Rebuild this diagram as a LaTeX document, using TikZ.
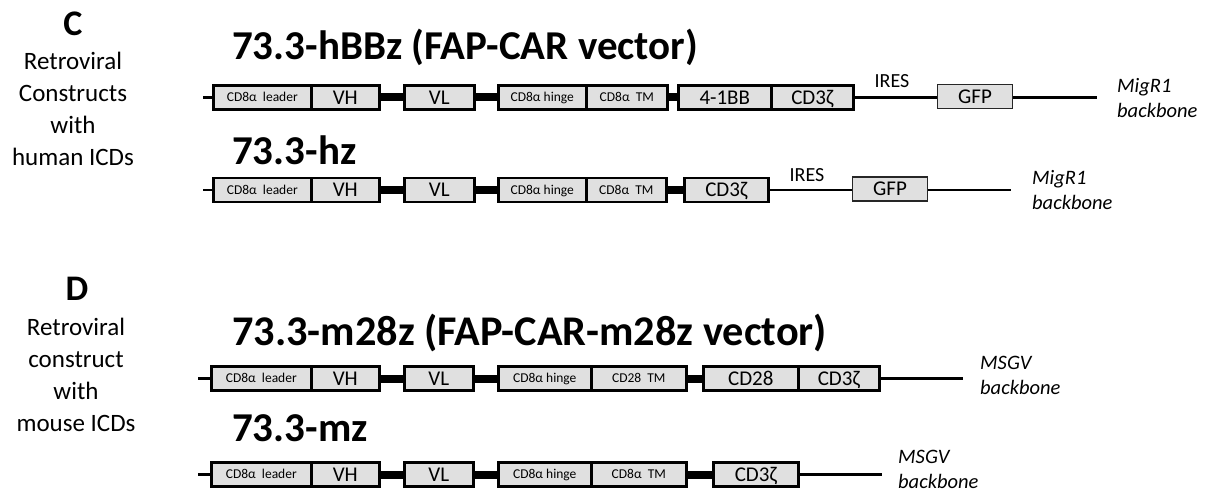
\documentclass[tikz,border=0pt]{standalone}
\usepackage{fontspec}
\setmainfont{Carlito}
\definecolor{boxgray}{HTML}{E0E0E0}
\begin{document}
\begin{tikzpicture}[x=1pt,y=-1pt,
  box/.style={draw, line width=2.6pt, fill=boxgray, minimum height=24pt, inner sep=0pt, anchor=west, text height=13.5pt, text depth=0pt, font=\fontsize{21}{21}\selectfont},
  smallbox/.style={box, text height=8.7pt, font=\fontsize{13.5}{13.5}\selectfont},
  gfpbox/.style={draw=black!85, line width=1.2pt, fill=boxgray, minimum height=24pt, inner sep=0pt, anchor=west, text height=13.5pt, text depth=0pt, font=\fontsize{21}{21}\selectfont},
  backbone/.style={line width=2.5pt},
  linker/.style={line width=8pt},
  title/.style={anchor=west, inner sep=0pt, font=\bfseries\fontsize{41}{41}\selectfont},
  panel/.style={inner sep=0pt, font=\bfseries\fontsize{36}{36}\selectfont},
  side/.style={inner sep=0pt, align=center, font=\fontsize{25}{32}\selectfont},
  ires/.style={inner sep=0pt, font=\fontsize{20}{20}\selectfont},
  bbone/.style={anchor=west, inner sep=0pt, align=left, font=\itshape\fontsize{20.5}{25}\selectfont}
]
\useasboundingbox (0,0) rectangle (1216,497);

% ---------- left labels ----------
\node[panel] (pc) at (73,24) {C};
\node[side] (lc) at (73,109) {Retroviral\\Constructs\\with\\human ICDs};
\node[panel] (pd) at (77,289) {D};
\node[side] (ld) at (76,375) {Retroviral\\construct\\with\\mouse ICDs};

% ---------- titles ----------
\node[title] (t1) at (232,47) {73.3-hBBz (FAP-CAR vector)};
\node[title] (t2) at (232,150) {73.3-hz};
\node[title, font=\bfseries\fontsize{42.3}{42.3}\selectfont] (t3) at (232,333) {73.3-m28z (FAP-CAR-m28z vector)};
\node[title] (t4) at (232,428) {73.3-mz};

% ---------- row 1 ----------
\coordinate (r1s) at (203,97.5);
\coordinate (r1e) at (1097,97.5);
\draw[backbone] (r1s) -- (r1e);
\node[gfpbox, minimum width=75pt] (r1gfp) at (937,96.5) {GFP};
\node[smallbox, minimum width=98pt] (r1le) at (212,97.5) {CD8α\ \ leader};
\node[box, minimum width=68pt] (r1vh) at (310,97.5) {VH};
\node[box, minimum width=70pt] (r1vl) at (403,97.5) {VL};
\node[smallbox, minimum width=88pt] (r1hi) at (497,97.5) {CD8α hinge};
\node[smallbox, minimum width=81pt] (r1tm) at (585,97.5) {CD8α\ \ TM};
\node[box, minimum width=93pt] (r1bb) at (677,97.5) {4-1BB};
\node[box, minimum width=82pt] (r1z) at (770,97.5) {CD3ζ};
\draw[linker] (r1vh.east) -- (r1vl.west);
\draw[linker] (r1vl.east) -- (r1hi.west);
\draw[linker] (r1tm.east) -- (r1bb.west);
\node[ires] (r1i) at (892,81) {IRES};
\node[bbone] (r1b) at (1117,98) {MigR1\\backbone};

% ---------- row 2 ----------
\coordinate (r2s) at (203,190);
\coordinate (r2e) at (1011,190);
\draw[backbone] (r2s) -- (r2e);
\node[smallbox, minimum width=98pt] (r2le) at (212,190) {CD8α\ \ leader};
\node[box, minimum width=68pt] (r2vh) at (310,190) {VH};
\node[box, minimum width=70pt] (r2vl) at (403,190) {VL};
\node[smallbox, minimum width=88pt] (r2hi) at (497,190) {CD8α hinge};
\node[smallbox, minimum width=80pt] (r2tm) at (585,190) {CD8α\ \ TM};
\node[box, minimum width=84pt] (r2z) at (683,190) {CD3ζ};
\node[gfpbox, minimum width=75pt] (r2gfp) at (852,189) {GFP};
\draw[linker] (r2vh.east) -- (r2vl.west);
\draw[linker] (r2vl.east) -- (r2hi.west);
\draw[linker] (r2tm.east) -- (r2z.west);
\node[ires] (r2i) at (807,175) {IRES};
\node[bbone] (r2b) at (1032,190) {MigR1\\backbone};

% ---------- row 3 ----------
\coordinate (r3s) at (198,378.5);
\coordinate (r3e) at (963,378.5);
\draw[backbone] (r3s) -- (r3e);
\node[smallbox, minimum width=100pt] (r3le) at (210,378.5) {CD8α\ \ leader};
\node[box, minimum width=68pt] (r3vh) at (310,378.5) {VH};
\node[box, minimum width=69pt] (r3vl) at (403,378.5) {VL};
\node[smallbox, minimum width=93pt] (r3hi) at (497,378.5) {CD8α hinge};
\node[smallbox, minimum width=95pt] (r3tm) at (590,378.5) {CD28\ \ TM};
\node[box, minimum width=95pt] (r3cd) at (702,378.5) {CD28};
\node[box, minimum width=81pt] (r3z) at (797,378.5) {CD3ζ};
\draw[linker] (r3vh.east) -- (r3vl.west);
\draw[linker] (r3vl.east) -- (r3hi.west);
\draw[linker] (r3tm.east) -- (r3cd.west);
\node[bbone] (r3b) at (980,375) {MSGV\\backbone};

% ---------- row 4 ----------
\coordinate (r4s) at (198,474.5);
\coordinate (r4e) at (882,474.5);
\draw[backbone] (r4s) -- (r4e);
\node[smallbox, minimum width=100pt] (r4le) at (210,474.5) {CD8α\ \ leader};
\node[box, minimum width=68pt] (r4vh) at (310,474.5) {VH};
\node[box, minimum width=69pt] (r4vl) at (403,474.5) {VL};
\node[smallbox, minimum width=93pt] (r4hi) at (497,474.5) {CD8α hinge};
\node[smallbox, minimum width=95pt] (r4tm) at (590,474.5) {CD8α\ \ TM};
\node[box, minimum width=85pt] (r4z) at (712,474.5) {CD3ζ};
\draw[linker] (r4vh.east) -- (r4vl.west);
\draw[linker] (r4vl.east) -- (r4hi.west);
\draw[linker] (r4tm.east) -- (r4z.west);
\node[bbone] (r4b) at (898,469) {MSGV\\backbone};
\end{tikzpicture}
\end{document}
